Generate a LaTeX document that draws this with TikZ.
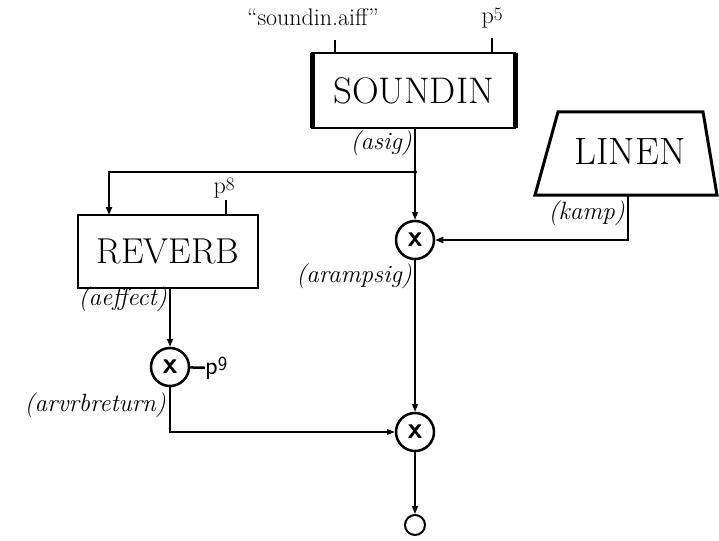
\documentclass[tikz,border=0pt]{standalone}
\usetikzlibrary{arrows.meta}
\begin{document}
\begin{tikzpicture}[x=1pt,y=-1pt,
  box/.style={draw, line width=2.5pt, outer sep=0pt, inner sep=0pt, font=\fontsize{37}{37}\selectfont},
  mult/.style={draw, circle, line width=2.5pt, minimum size=38pt, inner sep=0pt, font=\fontsize{30}{30}\selectfont\sffamily\bfseries},
  lab/.style={font=\fontsize{25}{25}\selectfont\itshape, anchor=east, inner sep=1pt},
  prm/.style={font=\fontsize{24}{24}\selectfont, inner sep=0pt},
  wire/.style={line width=1.5pt},
  sig/.style={line width=1.5pt, -{Triangle[length=8pt,width=6pt]}},
]
\useasboundingbox (0,0) rectangle (719,540);

% SOUNDIN
\node[box, minimum width=203pt, minimum height=75pt] (sndin) at (413.5,90.5) {SOUNDIN};
\draw[line width=5pt] (sndin.north west) -- (sndin.south west);
\draw[line width=5pt] (sndin.north east) -- (sndin.south east);
\node[prm] (fname) at (313,17) {``soundin.aiff''};
\node[prm] (p5) at (492,18) {p\raisebox{0.3ex}{\fontsize{19}{19}\selectfont 5}};
\coordinate (t1) at (335,40);
\coordinate (t2) at (492,38);
\draw[wire] (t1) -- (t1 |- sndin.north);
\draw[line width=2.5pt] (t2) -- (t2 |- sndin.north);
\node[lab] (asig) at (413,143) {(asig)};

% junction
\coordinate (j) at (415,172);
\fill (j) circle (2pt);

% LINEN
\draw[line width=3pt, line join=miter] (535,195) -- (558,112) -- (703,112) -- (717,195) -- cycle;
\node[font=\fontsize{38}{38}\selectfont, inner sep=0pt] (linen) at (630,152) {LINEN};
\coordinate (lo) at (628,195);
\node[lab] (kamp) at (626,213) {(kamp)};

% REVERB
\node[box, minimum width=180pt, minimum height=73pt, font=\fontsize{36}{36}\selectfont] (rev) at (168,251.5) {REVERB};
\node[prm] (p8) at (224,188) {p\raisebox{0.3ex}{\fontsize{19}{19}\selectfont 8}};
\coordinate (t3) at (226,200);
\draw[wire] (t3) -- (t3 |- rev.north);
\node[lab] (aeffect) at (168,299) {(aeffect)};

% multipliers
\node[mult] (m1) at (415,240) {x};
\node[mult] (m2) at (170,367) {x};
\node[mult] (m3) at (415,432) {x};
\node[draw, circle, line width=2pt, minimum size=20pt, inner sep=0pt] (out) at (415,525) {};

\node[font=\fontsize{26}{26}\selectfont\sffamily, anchor=west, inner sep=0pt] (p9) at (205,368) {p\raisebox{0.35ex}{\fontsize{20}{20}\selectfont 9}};
\node[lab] (arampsig) at (413,276) {(arampsig)};
\node[lab] (arvrb) at (167,405) {(arvrbreturn)};

% connections
\draw[wire] (sndin.south -| j) -- (j);
\draw[sig] (j) -- (m1);
\draw[sig, line width=2pt] (j) -| ([xshift=-59pt]rev.north);
\draw[sig, line width=2.5pt] (lo) |- (m1);
\draw[sig, line width=2.5pt] (rev.south -| m2) -- (m2);
\draw[line width=2.5pt] (m2) -- (p9);
\draw[sig, line width=2pt] (m2) |- (m3);
\draw[sig] (m1) -- (m3);
\draw[sig] (m3) -- (out);
\end{tikzpicture}
\end{document}
